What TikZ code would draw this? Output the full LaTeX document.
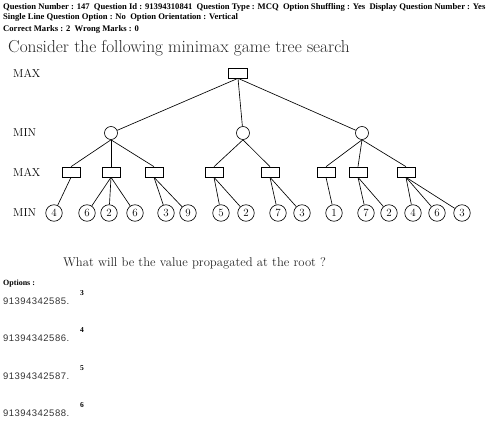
\documentclass[tikz,border=0pt]{standalone}
\usepackage{fontspec}
\usepackage{tikz}
\usetikzlibrary{shapes.geometric, arrows}
\newfontfamily\headfont{Liberation Serif}
\newfontfamily\optfont[LetterSpace=5]{Liberation Sans}
\tikzstyle{maxbox} = [rectangle, minimum width=18pt, minimum height=10pt, inner sep=0pt, draw=black, line width=0.65pt]
\tikzstyle{minball} = [circle, minimum size=13pt, inner sep=0pt, draw=black, line width=0.65pt]
\tikzstyle{leaf} = [circle, minimum size=16.5pt, inner sep=0pt, draw=black, line width=0.65pt, font=\fontsize{11}{13}\selectfont]
\tikzstyle{level} = [anchor=west, inner sep=0pt, font=\fontsize{11.5}{13}\selectfont]
\tikzstyle{head} = [anchor=west, inner sep=0pt, font=\headfont\bfseries\fontsize{8.6}{10}\selectfont]
\tikzstyle{option} = [anchor=west, inner sep=0pt, font=\optfont\fontsize{9.5}{11}\selectfont, text=black!80]
\tikzstyle{answer} = [anchor=west, inner sep=0pt, font=\headfont\bfseries\fontsize{7.5}{9}\selectfont]
\tikzstyle{edge} = [line width=0.65pt]
\begin{document}
\begin{tikzpicture}[x=1pt, y=1pt, node distance=60pt]
	\useasboundingbox (0,0) rectangle (498,-428);
	% header
	\node (q1) [head] at (3,-7) {Question Number : 147~~Question Id : 91394310841~~Question Type : MCQ~~Option Shuffling : Yes~~Display Question Number : Yes};
	\node (q2) [head] at (3,-17) {Single Line Question Option : No~~Option Orientation : Vertical};
	\node (q3) [head] at (3,-29) {Correct Marks : 2~~Wrong Marks : 0};
	\node (title) [anchor=west, inner sep=0pt, font=\fontsize{17.3}{20}\selectfont, text=black!85] at (8,-48) {Consider the following minimax game tree search};
	% levels
	\node (l1) [level] at (13,-73) {MAX};
	\node (l2) [level] at (13,-133) {MIN};
	\node (l3) [level] at (13,-172) {MAX};
	\node (l4) [level] at (13,-213) {MIN};
	% tree
	\node (root) [maxbox, minimum width=19pt] at (238,-73) {};
	\node (m1) [minball, below of=root, xshift=-127pt] {};
	\node (m2) [minball, below of=root, xshift=5pt] {};
	\node (m3) [minball, below of=root, xshift=124pt] {};
	\node (b1) [maxbox, below of=m1, node distance=39pt, xshift=-40pt] {};
	\node (b2) [maxbox, below of=m1, node distance=39pt] {};
	\node (b3) [maxbox, below of=m1, node distance=39pt, xshift=43pt] {};
	\node (b4) [maxbox, below of=m2, node distance=39pt, xshift=-29pt] {};
	\node (b5) [maxbox, below of=m2, node distance=39pt, xshift=27pt] {};
	\node (b6) [maxbox, below of=m3, node distance=39pt, xshift=-36pt] {};
	\node (b7) [maxbox, below of=m3, node distance=39pt, xshift=-4pt] {};
	\node (b8) [maxbox, below of=m3, node distance=39pt, xshift=44pt] {};
	\node (t1) [leaf, below of=b1, node distance=41pt, xshift=-17pt] {4};
	\node (t2) [leaf, below of=b2, node distance=41pt, xshift=-24pt] {6};
	\node (t3) [leaf, below of=b2, node distance=41pt, xshift=-2pt] {2};
	\node (t4) [leaf, below of=b2, node distance=41pt, xshift=24pt] {6};
	\node (t5) [leaf, below of=b3, node distance=41pt, xshift=12pt] {3};
	\node (t6) [leaf, below of=b3, node distance=41pt, xshift=34pt] {9};
	\node (t7) [leaf, below of=b4, node distance=41pt, xshift=7pt] {5};
	\node (t8) [leaf, below of=b4, node distance=41pt, xshift=32pt] {2};
	\node (t9) [leaf, below of=b5, node distance=41pt, xshift=8pt] {7};
	\node (t10) [leaf, below of=b5, node distance=41pt, xshift=32pt] {3};
	\node (t11) [leaf, below of=b6, node distance=41pt, xshift=8pt] {1};
	\node (t12) [leaf, below of=b7, node distance=41pt, xshift=8pt] {7};
	\node (t13) [leaf, below of=b7, node distance=41pt, xshift=31pt] {2};
	\node (t14) [leaf, below of=b8, node distance=41pt, xshift=7pt] {4};
	\node (t15) [leaf, below of=b8, node distance=41pt, xshift=31pt] {6};
	\node (t16) [leaf, below of=b8, node distance=41pt, xshift=56pt] {3};
	\draw [edge] (root.south) -- (m1);
	\draw [edge] (root.south) -- (m2);
	\draw [edge] (root.south) -- (m3);
	\draw [edge] (m1.south) -- (b1.north);
	\draw [edge] (m1.south) -- (b2.north);
	\draw [edge] (m1.south) -- (b3.north);
	\draw [edge] (m2.south) -- (b4.north);
	\draw [edge] (m2.south) -- (b5.north);
	\draw [edge] (m3.south) -- (b6.north);
	\draw [edge] (m3.south) -- (b7.north);
	\draw [edge] (m3.south) -- (b8.north);
	\draw [edge] (b1.south) -- (t1);
	\draw [edge] (b2.south) -- (t2);
	\draw [edge] (b2.south) -- (t3);
	\draw [edge] (b2.south) -- (t4);
	\draw [edge] (b3.south) -- (t5);
	\draw [edge] (b3.south) -- (t6);
	\draw [edge] (b4.south) -- (t7);
	\draw [edge] (b4.south) -- (t8);
	\draw [edge] (b5.south) -- (t9);
	\draw [edge] (b5.south) -- (t10);
	\draw [edge] (b6.south) -- (t11);
	\draw [edge] (b7.south) -- (t12);
	\draw [edge] (b7.south) -- (t13);
	\draw [edge] (b8.south) -- (t14);
	\draw [edge] (b8.south) -- (t15);
	\draw [edge] (b8.south) -- (t16);
	% question and options
	\node (ask) [anchor=west, inner sep=0pt, font=\fontsize{12.7}{15}\selectfont, text=black!85] at (63,-263) {What will be the value propagated at the root ?};
	\node (opts) [anchor=west, inner sep=0pt, font=\headfont\bfseries\fontsize{8}{9}\selectfont] at (3,-284) {Options :};
	\node (o1) [option] at (3,-301) {91394342585.};
	\node (a1) [answer] at (80,-293) {3};
	\node (o2) [option] at (3,-338) {91394342586.};
	\node (a2) [answer] at (80,-330) {4};
	\node (o3) [option] at (3,-376) {91394342587.};
	\node (a3) [answer] at (80,-368) {5};
	\node (o4) [option] at (3,-413) {91394342588.};
	\node (a4) [answer] at (80,-405) {6};
\end{tikzpicture}
\end{document}
